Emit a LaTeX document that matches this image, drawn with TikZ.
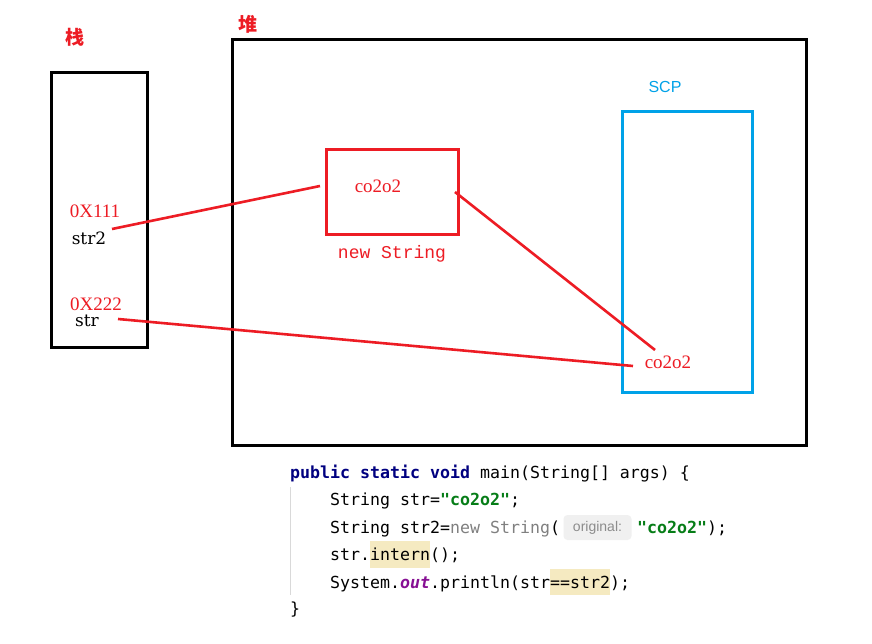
\documentclass[tikz,border=0pt]{standalone}
\usepackage{fontspec}
\setmainfont{Liberation Serif}
\newfontfamily\cjk{Noto Sans CJK SC}
\newfontfamily\codefont{DejaVu Sans Mono}
\newfontfamily\hintfont{Liberation Sans}
\newfontfamily\lblmono{Liberation Mono}
\newfontfamily\varfont{DejaVu Serif}
\definecolor{myred}{HTML}{ED1C24}
\definecolor{mycyan}{HTML}{00A2E8}
\definecolor{kwblue}{HTML}{000080}
\definecolor{strgreen}{HTML}{067D17}
\definecolor{codegray}{HTML}{808080}
\definecolor{outpurple}{HTML}{871094}
\definecolor{hlyellow}{HTML}{F5EAC1}
\definecolor{hintbg}{HTML}{F0F0F0}
\definecolor{hinttext}{HTML}{8C8C8C}
\newcommand{\kw}[1]{{\bfseries\color{kwblue}#1}}
\newcommand{\jstr}[1]{{\bfseries\color{strgreen}#1}}
\newcommand{\gr}[1]{{\color{codegray}#1}}
\newcommand{\pu}[1]{{\bfseries\itshape\color{outpurple}#1}}
\tikzset{
  frame/.style={draw=black, line width=3pt},
  redbox/.style={draw=myred, line width=3pt},
  cyanbox/.style={draw=mycyan, line width=3pt},
  link/.style={draw=myred, line width=2.6pt},
  lbl/.style={inner sep=0pt, font=\fontsize{19}{22}\selectfont},
  redlbl/.style={lbl, text=myred},
  blklbl/.style={inner sep=0pt, text=black, font=\varfont\fontsize{17}{20}\selectfont},
  cjklbl/.style={inner sep=0pt, text=myred, font=\cjk\bfseries\fontsize{19}{21}\selectfont},
  codeline/.style={anchor=base west, inner sep=0pt, font=\codefont\fontsize{16.6}{20}\selectfont},
  hl/.style={fill=hlyellow, draw=none},
}
\begin{document}
\begin{tikzpicture}[x=1pt,y=-1pt]
\useasboundingbox (0,0) rectangle (872,644);
\fill[white] (0,0) rectangle (872,644);

% titles
\node[cjklbl] (zhan) at (75,37) {栈};
\node[cjklbl] (dui) at (248,24) {堆};
\node[inner sep=0pt, text=mycyan, font=\hintfont\fontsize{16}{18}\selectfont] (scplbl) at (665,87) {SCP};

% boxes
\draw[frame] (51,73) rectangle (147,347);
\draw[frame] (232,40) rectangle (806,445);
\draw[cyanbox] (622,112) rectangle (752,392);
\node[redbox, minimum width=132pt, minimum height=85pt, inner sep=0pt] (newbox) at (392,192.5) {};

% texts
\node[redlbl] (heapstr) at (378,186) {co2o2};
\node[inner sep=0pt, text=myred, font=\lblmono\fontsize{18}{20}\selectfont] (newlbl) at (392,254) {new String};
\node[redlbl] (addr1) at (95,211) {0X111};
\node[blklbl] (str2lbl) at (89,238) {str2};
\node[redlbl] (addr2) at (96,304) {0X222};
\node[blklbl] (strlbl) at (87,321) {str};
\node[redlbl] (poolstr) at (668,362) {co2o2};

% connectors
\coordinate (a1) at (112,229);
\coordinate (b1) at (320,186);
\coordinate (a2) at (455,192);
\coordinate (b2) at (655,350);
\coordinate (a3) at (118,319);
\coordinate (b3) at (633,366);
\draw[link] (a1) -- (b1);
\draw[link] (a2) -- (b2);
\draw[link] (a3) -- (b3);

% code block
\draw[hl] (370,541) rectangle (430,568);
\draw[hl] (550,569) rectangle (610,595);
\draw[black!15, line width=1pt] (290,487) -- (290,595);
\node[codeline] (c1) at (290,478) {\kw{public static void} main(String[] args) \{};
\node[codeline] (c2) at (330,505) {String str=\jstr{"co2o2"};};
\node[codeline] (c3a) at (330,533) {String str2=\gr{new String}(};
\node[fill=hintbg, rounded corners=4pt, minimum width=68pt, minimum height=25pt, inner sep=0pt, text=hinttext, font=\hintfont\fontsize{14}{16}\selectfont] (hint) at (597.5,527.5) {original:};
\node[codeline] (c3b) at (637,533) {\jstr{"co2o2"});};
\node[codeline] (c4) at (330,560) {str.intern();};
\node[codeline] (c5) at (330,588) {System.\pu{out}.println(str==str2);};
\node[codeline] (c6) at (290,614) {\}};
\end{tikzpicture}
\end{document}
